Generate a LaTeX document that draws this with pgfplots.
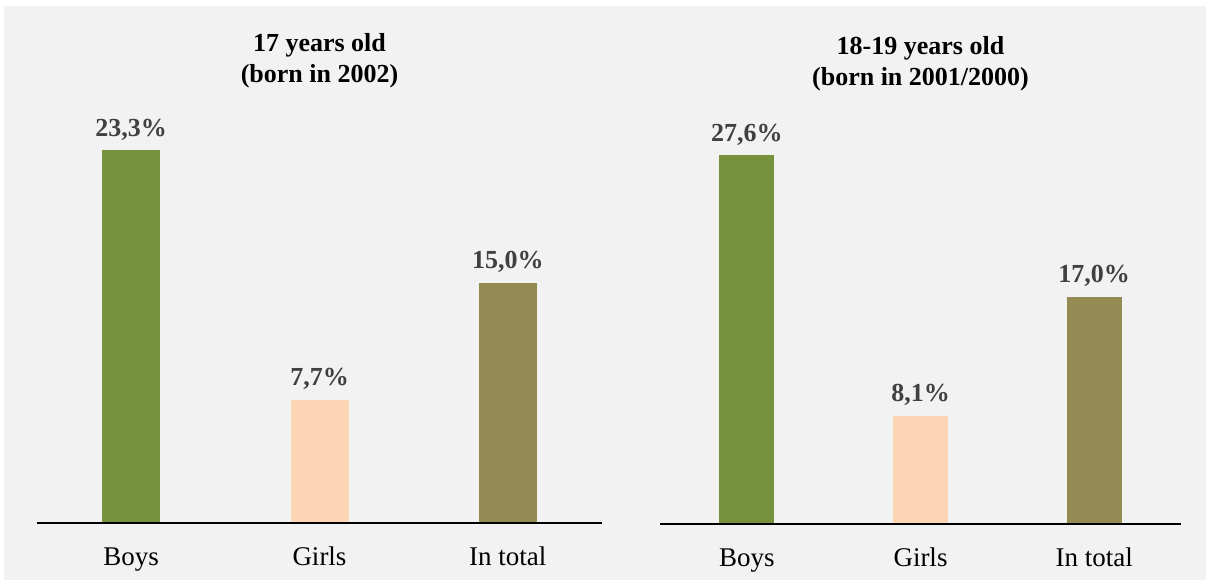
\documentclass[border=0pt]{standalone}
\usepackage{fontspec}
\setmainfont{Liberation Serif}
\usepackage{pgfplots}
\pgfplotsset{compat=1.18}
\definecolor{bg}{HTML}{F2F2F2}
\definecolor{boys}{HTML}{76923C}
\definecolor{girls}{HTML}{FCD5B5}
\definecolor{total}{HTML}{948A54}
\definecolor{labelgray}{HTML}{404040}
\begin{document}
\begin{tikzpicture}
\fill[white] (0pt,0pt) rectangle (1211pt,583pt);
\fill[bg] (4pt,3pt) rectangle (1206pt,577pt);
\pgfplotsset{
 mybar/.style={
  scale only axis, ybar, bar shift=0pt, ymin=0, xmin=-0.5, xmax=2.5,
  xtick={0,1,2}, xticklabels={Boys,Girls,In total},
  axis x line=bottom, hide y axis,
  x axis line style={-,line width=1.8pt,black},
  major tick length=0pt,
  /pgf/number format/assume math mode=true,
  xticklabel style={font=\fontsize{27}{32}\selectfont, anchor=base, yshift=-43pt, inner sep=0pt},
  nodes near coords={\pgfmathprintnumber[fixed,fixed zerofill,precision=1,use comma,assume math mode=true]{\pgfplotspointmeta}\%},
  every node near coord/.append style={font=\bfseries\fontsize{26}{30}\selectfont, text=labelgray, anchor=base, yshift=14pt, inner sep=0pt},
  title style={font=\bfseries\fontsize{26}{31}\selectfont, align=center, at={(0.5,1)}, anchor=south, yshift=9pt},
  clip=false, axis on top,
 }
}
\begin{axis}[mybar, at={(37pt,60pt)}, anchor=south west, width=565pt, height=416pt, ymax=26, bar width=58pt,
  title={17 years old\\(born in 2002)}]
\addplot[fill=boys, draw=none] coordinates {(0,23.3)};
\addplot[fill=girls, draw=none] coordinates {(1,7.7)};
\addplot[fill=total, draw=none] coordinates {(2,15.0)};
\end{axis}
\begin{axis}[mybar, at={(660pt,59pt)}, anchor=south west, width=521pt, height=414pt, ymax=31, bar width=55pt,
  title={18-19 years old\\(born in 2001/2000)}]
\addplot[fill=boys, draw=none] coordinates {(0,27.6)};
\addplot[fill=girls, draw=none] coordinates {(1,8.1)};
\addplot[fill=total, draw=none] coordinates {(2,17.0)};
\end{axis}
\end{tikzpicture}
\end{document}
